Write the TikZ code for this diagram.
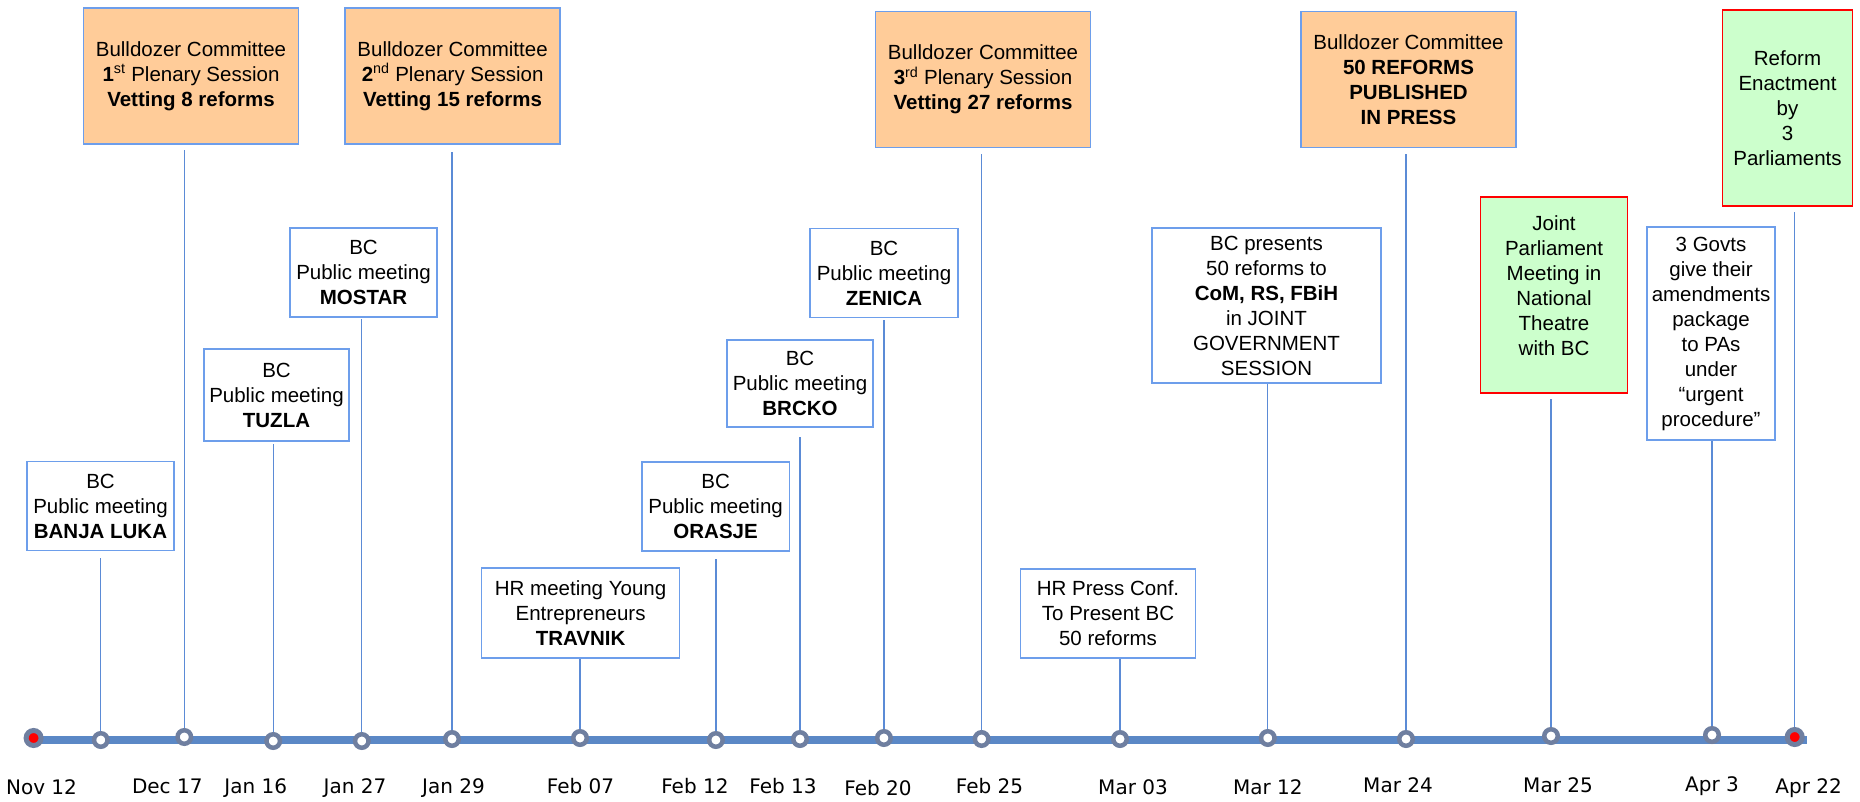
\documentclass[tikz,border=0pt]{standalone}
\usepackage{fontspec}
\setmainfont{Liberation Sans}
\newfontfamily\datefont{DejaVu Sans}
\definecolor{axisblue}{HTML}{5B88C6}
\definecolor{stemblue}{HTML}{5B8BD6}
\definecolor{boxblue}{HTML}{6D9EEB}
\definecolor{ringgray}{HTML}{6F7FA0}
\definecolor{orangefill}{HTML}{FFCC99}
\definecolor{greenfill}{HTML}{CCFFCC}
\begin{document}
\begin{tikzpicture}[x=1pt,y=-1pt,
  box/.style={draw=boxblue, line width=1.6pt, fill=white, align=center, inner sep=0pt,
    font=\fontsize{20.5}{25}\selectfont},
  plenary/.style={box, fill=orangefill, minimum width=215pt, minimum height=136pt},
  meeting/.style={box, minimum width=147.5pt, minimum height=89pt},
  enact/.style={box, draw=red, fill=greenfill},
  stem/.style={draw=stemblue, line width=1.3pt},
  dot/.style={circle, draw=ringgray, line width=4.5pt, fill=white, minimum size=13.5pt, inner sep=0pt},
  enddot/.style={dot, fill=red, line width=5pt, minimum size=15pt},
  date/.style={font=\datefont\fontsize{20}{24}\selectfont, inner sep=0pt}]
\useasboundingbox (0,0) rectangle (1860,801);

% timeline
\coordinate (axL) at (33.6,740);
\coordinate (axR) at (1806.5,740);
\draw[axisblue, line width=8.7pt] (axL) -- (axR);

% event boxes
\node[plenary] (b1) at (191,76) {Bulldozer Committee\\\textbf{1}\textsuperscript{st} Plenary Session\\\textbf{Vetting 8 reforms}};
\node[plenary] (b2) at (452.6,76) {Bulldozer Committee\\\textbf{2}\textsuperscript{nd} Plenary Session\\\textbf{Vetting 15 reforms}};
\node[plenary] (b3) at (983,79.5) {Bulldozer Committee\\\textbf{3}\textsuperscript{rd} Plenary Session\\\textbf{Vetting 27 reforms}};
\node[plenary] (b4) at (1408.5,79.5) {Bulldozer Committee\\\textbf{50 REFORMS}\\\textbf{PUBLISHED}\\\textbf{IN PRESS}};
\node[enact, minimum width=130pt, minimum height=196pt] (enact) at (1787.5,108) {Reform\\Enactment\\by\\3\\Parliaments};
\node[enact, minimum width=147pt, minimum height=196pt] (joint) at (1554,295) {Joint\\Parliament\\Meeting in\\National\\Theatre\\with BC\\[-6pt]\mbox{}};
\node[box, minimum width=128.5pt, minimum height=213pt] (govts) at (1711,333.5) {3 Govts\\give their\\amendments\\package\\to PAs\\under\\“urgent\\procedure”};
\node[box, minimum width=229.5pt, minimum height=155pt] (pres) at (1266.5,305.5) {BC presents\\50 reforms to\\\textbf{CoM, RS, FBiH}\\in JOINT\\GOVERNMENT\\SESSION};
\node[meeting] (mostar) at (363.5,272.5) {BC\\Public meeting\\\textbf{MOSTAR}};
\node[meeting] (zenica) at (884,273) {BC\\Public meeting\\\textbf{ZENICA}};
\node[meeting, minimum width=145pt, minimum height=92pt] (tuzla) at (276.5,395) {BC\\Public meeting\\\textbf{TUZLA}};
\node[meeting, minimum width=146pt, minimum height=87pt] (brcko) at (800,383.5) {BC\\Public meeting\\\textbf{BRCKO}};
\node[meeting] (banja) at (100.5,506) {BC\\Public meeting\\\textbf{BANJA LUKA}};
\node[meeting] (orasje) at (715.6,506.5) {BC\\Public meeting\\\textbf{ORASJE}};
\node[meeting, minimum width=198pt, minimum height=90pt] (travnik) at (580.6,613) {HR meeting Young\\Entrepreneurs\\\textbf{TRAVNIK}};
\node[meeting, minimum width=175pt, minimum height=89pt] (press) at (1108,613.5) {HR Press Conf.\\To Present BC\\50 reforms};

% markers on the timeline
\node[enddot] (d0) at (33.6,738) {};
\node[dot] (d1) at (100.8,740) {};
\node[dot] (d2) at (184.3,737) {};
\node[dot] (d3) at (273.2,741) {};
\node[dot] (d4) at (361.8,741) {};
\node[dot] (d5) at (452,739) {};
\node[dot] (d6) at (580,738) {};
\node[dot] (d7) at (715.9,740) {};
\node[dot] (d8) at (800,739) {};
\node[dot] (d9) at (883.9,738) {};
\node[dot] (d10) at (981.6,739) {};
\node[dot] (d11) at (1120,739) {};
\node[dot] (d12) at (1267.8,738) {};
\node[dot] (d13) at (1406,739) {};
\node[dot] (d14) at (1551,736) {};
\node[dot] (d15) at (1712,735) {};
\node[enddot] (d16) at (1794.7,737) {};

% stems from markers up to their boxes
\draw[stem, shorten >=7pt] (d1) -- (d1 |- banja.south);
\draw[stem, shorten >=5pt] (d2) -- (d2 |- b1.south);
\draw[stem, shorten >=2pt] (d3) -- (d3 |- tuzla.south);
\draw[stem, shorten >=1pt] (d4) -- (d4 |- mostar.south);
\draw[stem, shorten >=7pt] (d5) -- (d5 |- b2.south);
\draw[stem] (d6) -- (d6 |- travnik.south);
\draw[stem, shorten >=7pt] (d7) -- (d7 |- orasje.south);
\draw[stem, shorten >=9pt] (d8) -- (d8 |- brcko.south);
\draw[stem, shorten >=2pt] (d9) -- (d9 |- zenica.south);
\draw[stem, shorten >=6pt] (d10) -- (d10 |- b3.south);
\draw[stem] (d11) -- (d11 |- press.south);
\draw[stem] (d12) -- (d12 |- pres.south);
\draw[stem, shorten >=6pt] (d13) -- (d13 |- b4.south);
\draw[stem, shorten >=5pt] (d14) -- (d14 |- joint.south);
\draw[stem] (d15) -- (d15 |- govts.south);
\draw[stem, shorten >=5pt] (d16) -- (d16 |- enact.south);

% dates
\node[date] (t0) at (41.5,787) {Nov 12};
\node[date] (t1) at (167.3,786) {Dec 17};
\node[date] (t2) at (255.8,788) {Jan 16};
\node[date] (t3) at (355,788) {Jan 27};
\node[date] (t4) at (453.5,788) {Jan 29};
\node[date] (t5) at (580.5,786) {Feb 07};
\node[date] (t6) at (694.9,786) {Feb 12};
\node[date] (t7) at (783,786) {Feb 13};
\node[date] (t8) at (878,788) {Feb 20};
\node[date] (t9) at (989.5,786) {Feb 25};
\node[date] (t10) at (1133,787) {Mar 03};
\node[date] (t11) at (1267.8,787) {Mar 12};
\node[date] (t12) at (1398,785) {Mar 24};
\node[date] (t13) at (1558,785) {Mar 25};
\node[date] (t14) at (1712,786) {Apr 3};
\node[date] (t15) at (1808.6,788) {Apr 22};
\end{tikzpicture}
\end{document}
